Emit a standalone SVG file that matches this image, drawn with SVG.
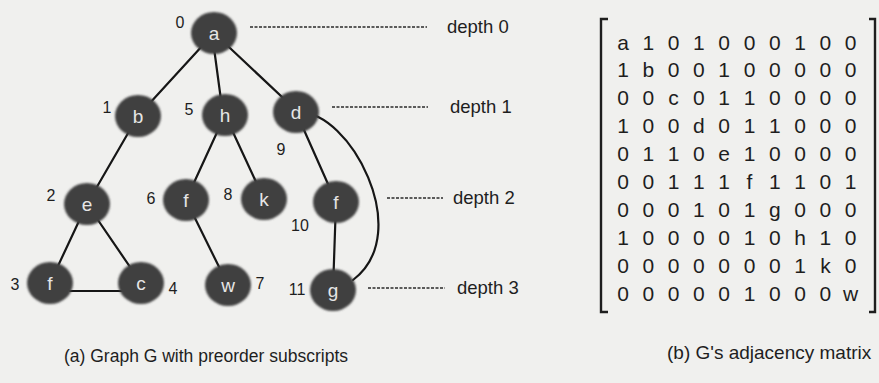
<svg xmlns="http://www.w3.org/2000/svg" width="879" height="383" viewBox="0 0 879 383">
  <defs>
    <filter id="soft" x="-20%" y="-20%" width="140%" height="140%">
      <feGaussianBlur stdDeviation="0.8"/>
    </filter>
  </defs>
  <style>
    text { font-family: "Liberation Sans", Arial, sans-serif; }
    .edge { stroke: #161616; stroke-width: 2.2; fill: none; stroke-linecap: round; }
    .node ellipse { fill: #414141; filter: url(#soft); }
    .node .lbl { fill: #e6e6e6; font-size: 19px; text-anchor: middle; }
    .node .idx { fill: #1e1e1e; font-size: 16px; text-anchor: middle; }
    .depth line { stroke: #2a2a2a; stroke-width: 1.4; stroke-dasharray: 3 1.5; }
    .depth text { fill: #1e1e1e; font-size: 18.5px; }
    .mat { fill: #1e1e1e; font-size: 21px; text-anchor: middle; }
    .bracket { stroke: #1e1e1e; stroke-width: 2.4; fill: none; }
    .cap { fill: #1e1e1e; }
  </style>

  <rect width="879" height="383" fill="#f0f0ee"/>

  <!-- edges of graph G -->
  <g id="edges">
    <line class="edge" x1="214" y1="33" x2="138" y2="116"/>
    <line class="edge" x1="212" y1="33" x2="223" y2="115"/>
    <line class="edge" x1="214" y1="33" x2="298" y2="112"/>
    <line class="edge" x1="138" y1="116" x2="87" y2="204"/>
    <line class="edge" x1="225" y1="115" x2="186" y2="200"/>
    <line class="edge" x1="225" y1="115" x2="264" y2="199"/>
    <line class="edge" x1="296" y1="112" x2="336" y2="202"/>
    <path class="edge" d="M300,113 C348,110 416,232 353,280"/>
    <line class="edge" x1="87" y1="204" x2="50" y2="283"/>
    <line class="edge" x1="87" y1="204" x2="141" y2="283"/>
    <line class="edge" x1="70" y1="291" x2="124" y2="291"/>
    <line class="edge" x1="186" y1="200" x2="228" y2="285"/>
    <line class="edge" x1="336" y1="202" x2="333" y2="290"/>
  </g>

  <!-- nodes with preorder subscripts -->
  <g id="node-a" class="node"><ellipse cx="214" cy="33" rx="23" ry="21"/><text class="lbl" x="214" y="40">a</text><text class="idx" x="180" y="28">0</text></g>
  <g id="node-b" class="node"><ellipse cx="138" cy="116" rx="23" ry="21"/><text class="lbl" x="138" y="123">b</text><text class="idx" x="107" y="113">1</text></g>
  <g id="node-h" class="node"><ellipse cx="225" cy="115" rx="23" ry="21"/><text class="lbl" x="225" y="122">h</text><text class="idx" x="189" y="115">5</text></g>
  <g id="node-d" class="node"><ellipse cx="296" cy="112" rx="23" ry="21"/><text class="lbl" x="296" y="119">d</text><text class="idx" x="281" y="155">9</text></g>
  <g id="node-e" class="node"><ellipse cx="87" cy="204" rx="23" ry="21"/><text class="lbl" x="87" y="211">e</text><text class="idx" x="51" y="201">2</text></g>
  <g id="node-f6" class="node"><ellipse cx="186" cy="200" rx="23" ry="21"/><text class="lbl" x="186" y="207">f</text><text class="idx" x="151" y="204">6</text></g>
  <g id="node-k" class="node"><ellipse cx="264" cy="199" rx="23" ry="21"/><text class="lbl" x="264" y="206">k</text><text class="idx" x="228" y="200">8</text></g>
  <g id="node-f10" class="node"><ellipse cx="336" cy="202" rx="23" ry="21"/><text class="lbl" x="336" y="209">f</text><text class="idx" x="300" y="231">10</text></g>
  <g id="node-f3" class="node"><ellipse cx="50" cy="283" rx="23" ry="21"/><text class="lbl" x="50" y="290">f</text><text class="idx" x="15" y="290">3</text></g>
  <g id="node-c" class="node"><ellipse cx="141" cy="283" rx="23" ry="21"/><text class="lbl" x="141" y="290">c</text><text class="idx" x="173" y="294">4</text></g>
  <g id="node-w" class="node"><ellipse cx="228" cy="285" rx="23" ry="21"/><text class="lbl" x="228" y="292">w</text><text class="idx" x="260" y="289">7</text></g>
  <g id="node-g" class="node"><ellipse cx="333" cy="290" rx="23" ry="21"/><text class="lbl" x="333" y="297">g</text><text class="idx" x="297" y="295">11</text></g>

  <!-- depth markers -->
  <g id="depths" class="depth">
    <line x1="250" y1="27" x2="427" y2="27"/><text x="447" y="33">depth 0</text>
    <line x1="332" y1="107" x2="428" y2="107"/><text x="450" y="113">depth 1</text>
    <line x1="387" y1="198" x2="443" y2="198"/><text x="453" y="204">depth 2</text>
    <line x1="368" y1="288" x2="445" y2="288"/><text x="457" y="294">depth 3</text>
  </g>

  <!-- adjacency matrix -->
  <g id="matrix">
    <path class="bracket" d="M608,19 H601 V312 H608"/>
    <path class="bracket" d="M869,19 H875 V312 H869"/>
    <g class="mat">
      <text x="623 648.3 673.6 698.9 724.2 749.5 774.8 800.1 825.4 850.7" y="49.5">a101000100</text>
      <text x="623 648.3 673.6 698.9 724.2 749.5 774.8 800.1 825.4 850.7" y="77.4">1b00100000</text>
      <text x="623 648.3 673.6 698.9 724.2 749.5 774.8 800.1 825.4 850.7" y="105.3">00c0110000</text>
      <text x="623 648.3 673.6 698.9 724.2 749.5 774.8 800.1 825.4 850.7" y="133.2">100d011000</text>
      <text x="623 648.3 673.6 698.9 724.2 749.5 774.8 800.1 825.4 850.7" y="161.1">0110e10000</text>
      <text x="623 648.3 673.6 698.9 724.2 749.5 774.8 800.1 825.4 850.7" y="189">00111f1101</text>
      <text x="623 648.3 673.6 698.9 724.2 749.5 774.8 800.1 825.4 850.7" y="216.9">000101g000</text>
      <text x="623 648.3 673.6 698.9 724.2 749.5 774.8 800.1 825.4 850.7" y="244.8">1000010h10</text>
      <text x="623 648.3 673.6 698.9 724.2 749.5 774.8 800.1 825.4 850.7" y="272.7">00000001k0</text>
      <text x="623 648.3 673.6 698.9 724.2 749.5 774.8 800.1 825.4 850.7" y="300.6">000001000w</text>
    </g>
  </g>

  <!-- captions -->
  <text class="cap" x="64" y="362" font-size="17.5">(a) Graph G with preorder subscripts</text>
  <text class="cap" x="667" y="359" font-size="19">(b) G's adjacency matrix</text>
</svg>
